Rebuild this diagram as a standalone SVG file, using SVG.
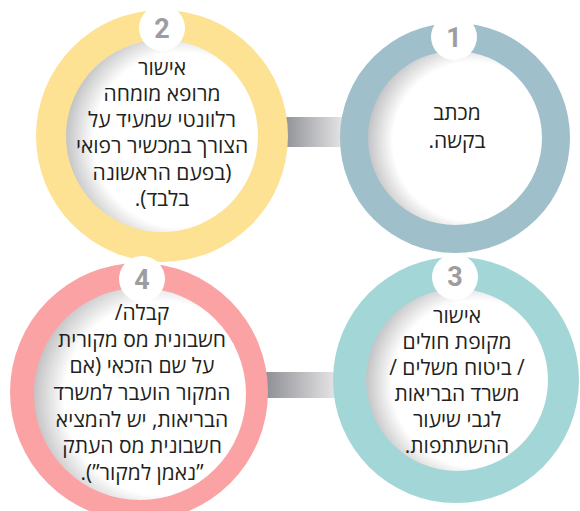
<svg xmlns="http://www.w3.org/2000/svg" width="580" height="511" viewBox="0 0 580 511">
<defs>
<linearGradient id="conn" x1="0" y1="0" x2="1" y2="0">
<stop offset="0" stop-color="#8a8b90"/>
<stop offset="1" stop-color="#e8e8ea"/>
</linearGradient>
<radialGradient id="inner" cx="0.6" cy="0.52" r="0.6">
<stop offset="0.76" stop-color="#ffffff"/>
<stop offset="1" stop-color="#c4c4c6"/>
</radialGradient>
<style>
.t{font-family:"Open Sans","Liberation Sans","DejaVu Sans",sans-serif;font-size:21px;fill:#231f20;text-anchor:middle;direction:rtl}
.n{font-family:Roboto,"Liberation Sans",sans-serif;font-weight:bold;font-size:27px;fill:#9d9da1;text-anchor:middle}
.in{fill:url(#inner)}
.badge{fill:#ffffff}
</style>
</defs>
<rect width="580" height="511" fill="#ffffff"/>
<g id="connectors">
<rect x="280" y="117" width="65" height="30" fill="url(#conn)"/>
<rect x="262" y="372" width="76" height="26" fill="url(#conn)"/>
</g>
<g id="step1">
<circle cx="455" cy="138" r="115" fill="#9fbfcb"/>
<circle class="in" cx="455" cy="138" r="87"/>
<circle class="badge" cx="454" cy="37" r="23"/>
<text class="n" x="454" y="47">1</text>
<text class="t" x="457" y="120">מכתב</text>
<text class="t" x="457" y="148">בקשה.</text>
</g>
<g id="step2">
<circle cx="162" cy="136" r="126" fill="#fde293"/>
<circle class="in" cx="162" cy="136" r="96"/>
<circle class="badge" cx="162" cy="28" r="23"/>
<text class="n" x="162" y="38">2</text>
<text class="t" x="162" y="75">אישור</text>
<text class="t" x="162" y="101">מרופא מומחה</text>
<text class="t" x="162" y="127">רלוונטי שמעיד על</text>
<text class="t" x="162" y="153">הצורך במכשיר רפואי</text>
<text class="t" x="162" y="180">(בפעם הראשונה</text>
<text class="t" x="162" y="206">בלבד).</text>
</g>
<g id="step3">
<circle cx="456" cy="380" r="123" fill="#a3d6d6"/>
<circle class="in" cx="457" cy="380" r="91"/>
<circle class="badge" cx="455" cy="277" r="23"/>
<text class="n" x="455" y="286">3</text>
<text class="t" x="457" y="323">אישור</text>
<text class="t" x="457" y="349">מקופת חולים</text>
<text class="t" x="457" y="375">/ ביטוח משלים /</text>
<text class="t" x="457" y="401">משרד הבריאות</text>
<text class="t" x="457" y="427">לגבי שיעור</text>
<text class="t" x="457" y="453">ההשתתפות.</text>
</g>
<g id="step4">
<circle cx="139" cy="392" r="129" fill="#fba3a4"/>
<circle class="in" cx="140" cy="394" r="106"/>
<circle class="badge" cx="142" cy="279" r="23"/>
<text class="n" x="142" y="289">4</text>
<text class="t" x="142" y="320">קבלה/</text>
<text class="t" x="142" y="347">חשבונית מס מקורית</text>
<text class="t" x="142" y="373">על שם הזכאי (אם</text>
<text class="t" x="142" y="400">המקור הועבר למשרד</text>
<text class="t" x="142" y="427">הבריאות, יש להמציא</text>
<text class="t" x="142" y="453">חשבונית מס העתק</text>
<text class="t" x="142" y="480">”נאמן למקור”).</text>
</g>
</svg>
